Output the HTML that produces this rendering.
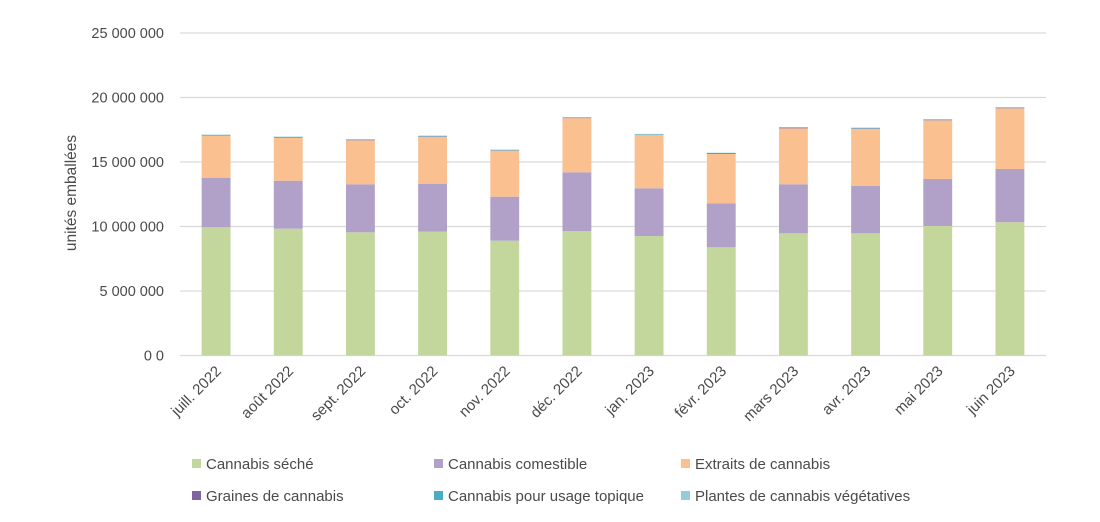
<!DOCTYPE html>
<html><head><meta charset="utf-8">
<style>
body{margin:0;background:#fff;font-family:"Liberation Sans",sans-serif;}
svg text{fill:#4a4a4a;font-family:"Liberation Sans",sans-serif;}
</style></head>
<body>
<svg id="chart" width="1100" height="517" xmlns="http://www.w3.org/2000/svg">
<g id="grid"></g><g id="bars"></g><g id="xlabels"></g><g id="ylabels"></g><g id="legend"></g>
<text x="76" y="193" font-size="15.5" text-anchor="middle" transform="rotate(-90 76 193)">unités emballées</text>
</svg>
<script>
const categories=["juill. 2022","août 2022","sept. 2022","oct. 2022","nov. 2022","déc. 2022","jan. 2023","févr. 2023","mars 2023","avr. 2023","mai 2023","juin 2023"];
const dried=[9.94,9.83,9.55,9.6,8.9,9.65,9.26,8.39,9.47,9.47,10.04,10.33];
const edible=[3.82,3.72,3.72,3.72,3.41,4.55,3.7,3.41,3.8,3.69,3.64,4.13];
const extracts=[3.28,3.33,3.41,3.64,3.57,4.2,4.13,3.82,4.34,4.42,4.55,4.7];
const seeds=[0.02,0.02,0.02,0.02,0.02,0.02,0.02,0.05,0.05,0.02,0.02,0.02];
const topical=[0.04,0.04,0.04,0.04,0.04,0.04,0.04,0.03,0.03,0.04,0.04,0.04];
const plants=[0.03,0.03,0.03,0.03,0.03,0.03,0.03,0.02,0.02,0.03,0.03,0.03];
const yTicks=[0,5,10,15,20,25];
const yTickLabels=["0 0","5 000 000","10 000 000","15 000 000","20 000 000","25 000 000"];
const seriesNames=["Cannabis séché","Cannabis comestible","Extraits de cannabis","Graines de cannabis","Cannabis pour usage topique","Plantes de cannabis végétatives"];
const colors=["#c3d69b","#b1a0c7","#fac090","#8064a2","#4bacc6","#93cddd"];
const series=[dried,edible,extracts,seeds,topical,plants];
const NS="http://www.w3.org/2000/svg";
const X0=180,X1=1046,Y0=355.5,PXM=12.9;
const band=(X1-X0)/categories.length;
const y=v=>Y0-v*PXM;
const xc=i=>X0+band*(i+0.5);
function mk(t,a,p){const e=document.createElementNS(NS,t);for(const k in a)e.setAttribute(k,a[k]);p.appendChild(e);return e;}
const g=document.getElementById('grid'),yl=document.getElementById('ylabels');
yTicks.forEach((t,i)=>{
 const l=mk('line',{x1:X0,x2:X1,y1:y(t),y2:y(t),stroke:'#d9d9d9','stroke-width':1.3},g);
 
 
 const tx=mk('text',{x:164,y:y(t)+5,'font-size':14.5,'text-anchor':'end'},yl);
 tx.textContent=yTickLabels[i];
 
 
});
const b=document.getElementById('bars'),xl=document.getElementById('xlabels');
const bw=band*0.4;
categories.forEach((c,i)=>{
 let acc=0;
 series.forEach((s,k)=>{
  const r=mk('rect',{x:xc(i)-bw/2,y:y(acc+s[i]),width:bw,height:s[i]*PXM,fill:colors[k]},b);
  
  
  acc+=s[i];
 });
 const tx=mk('text',{x:xc(i)+6,y:372,'font-size':15,'text-anchor':'end',transform:`rotate(-45 ${xc(i)+6} 372)`},xl);
 tx.textContent=c;
 
 
});
const lg=document.getElementById('legend');
const lx=[192,434,681],ly=[464,496];
seriesNames.forEach((n,k)=>{
 const gx=lx[k%3],gy=ly[Math.floor(k/3)];
 const grp=mk('g',{},lg);
 
 
 mk('rect',{x:gx,y:gy-5,width:9,height:9,fill:colors[k]},grp);
 const t=mk('text',{x:gx+14,y:gy+5,'font-size':15},grp);
 t.textContent=n;
});
</script>
</body></html>
